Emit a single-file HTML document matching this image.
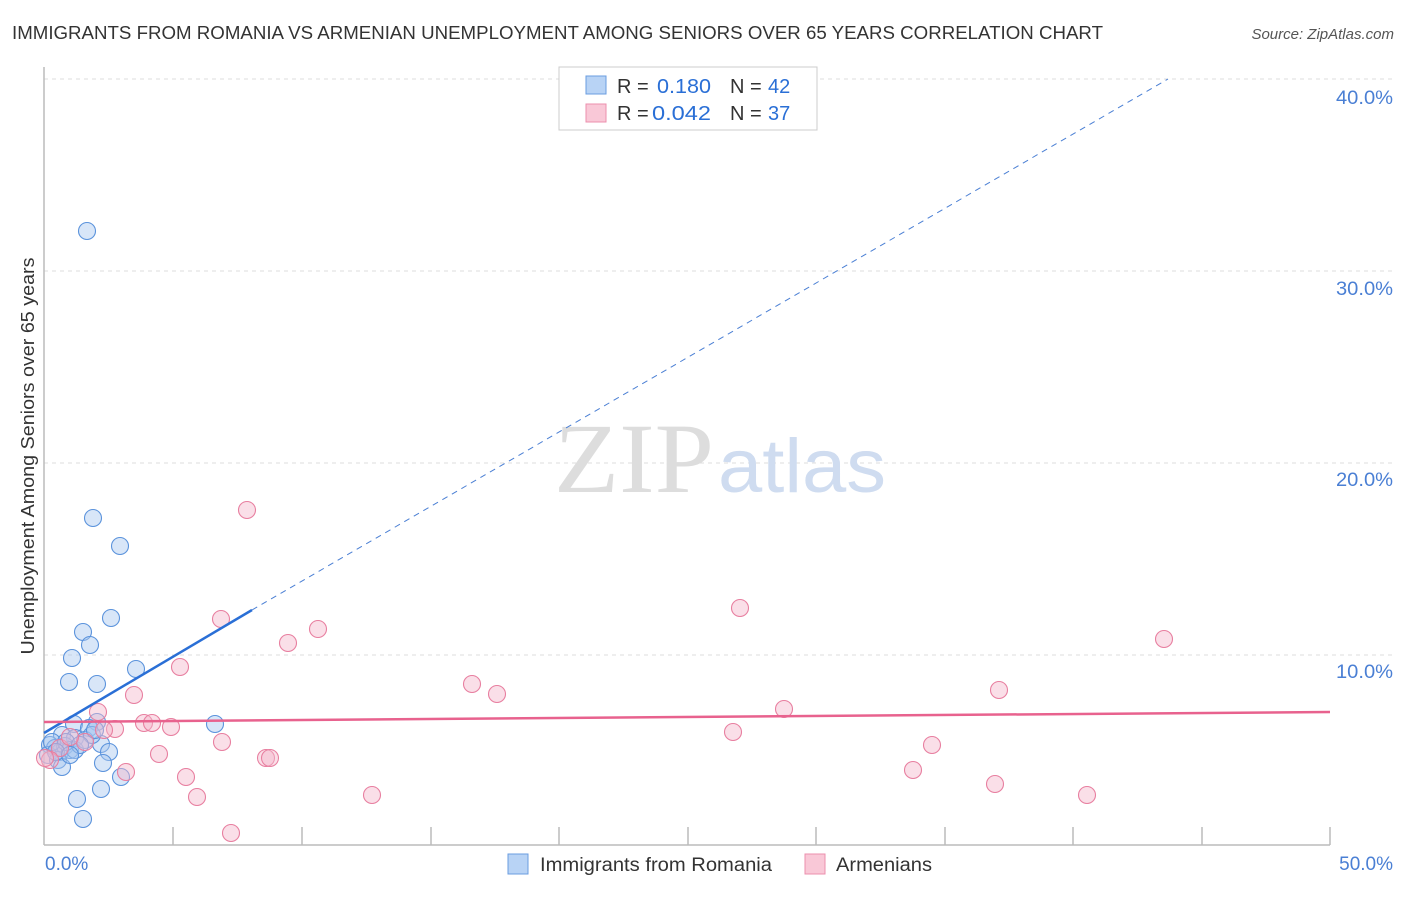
<!DOCTYPE html>
<html><head><style>
body{margin:0;background:#fff;font-family:"Liberation Sans",sans-serif;}
</style></head><body>
<svg width="1406" height="892" xmlns="http://www.w3.org/2000/svg" font-family="Liberation Sans, sans-serif">
<rect width="1406" height="892" fill="#fff"/>
<text x="12" y="39" font-size="18" fill="#333" textLength="1091" lengthAdjust="spacingAndGlyphs">IMMIGRANTS FROM ROMANIA VS ARMENIAN UNEMPLOYMENT AMONG SENIORS OVER 65 YEARS CORRELATION CHART</text>
<text x="1394" y="39" font-size="15" fill="#555" font-style="italic" text-anchor="end">Source: ZipAtlas.com</text>
<g stroke="#ddd" stroke-dasharray="4,4">
<line x1="44" y1="79" x2="1394" y2="79"/><line x1="44" y1="271" x2="1394" y2="271"/>
<line x1="44" y1="463" x2="1394" y2="463"/><line x1="44" y1="655" x2="1394" y2="655"/>
</g>
<line x1="44" y1="67" x2="44" y2="845" stroke="#bbb" stroke-width="1.5"/>
<line x1="44" y1="845" x2="1330" y2="845" stroke="#bbb" stroke-width="1.5"/>
<g stroke="#bbb" stroke-width="1.5">
<line x1="173" y1="827" x2="173" y2="845"/><line x1="302" y1="827" x2="302" y2="845"/><line x1="431" y1="827" x2="431" y2="845"/><line x1="559" y1="827" x2="559" y2="845"/><line x1="688" y1="827" x2="688" y2="845"/><line x1="816" y1="827" x2="816" y2="845"/><line x1="945" y1="827" x2="945" y2="845"/><line x1="1073" y1="827" x2="1073" y2="845"/><line x1="1202" y1="827" x2="1202" y2="845"/><line x1="1330" y1="827" x2="1330" y2="845"/>
</g>
<g font-size="19" fill="#4a7fd4" text-anchor="end">
<text x="1393" y="104" textLength="57" lengthAdjust="spacingAndGlyphs">40.0%</text><text x="1393" y="295" textLength="57" lengthAdjust="spacingAndGlyphs">30.0%</text><text x="1393" y="486" textLength="57" lengthAdjust="spacingAndGlyphs">20.0%</text><text x="1393" y="678" textLength="57" lengthAdjust="spacingAndGlyphs">10.0%</text>
</g>
<text x="45" y="870" font-size="19" fill="#4a7fd4">0.0%</text>
<text x="1393" y="870" font-size="19" fill="#4a7fd4" text-anchor="end">50.0%</text>
<text transform="translate(34,456) rotate(-90)" font-size="18" fill="#333" text-anchor="middle" textLength="397" lengthAdjust="spacingAndGlyphs">Unemployment Among Seniors over 65 years</text>
<text x="554" y="492" font-size="100" fill="#ddd" font-family="Liberation Serif, serif" textLength="160" lengthAdjust="spacingAndGlyphs">ZIP</text>
<text x="718" y="492" font-size="76" fill="#cfdcf0" textLength="168" lengthAdjust="spacingAndGlyphs">atlas</text>
<g fill="#a9c8f0" fill-opacity="0.45" stroke="#5b93dc" stroke-width="1.1">
<circle cx="87" cy="231" r="8.5"/><circle cx="93" cy="518" r="8.5"/><circle cx="120" cy="546" r="8.5"/><circle cx="111" cy="618" r="8.5"/><circle cx="83" cy="632" r="8.5"/><circle cx="90" cy="645" r="8.5"/><circle cx="72" cy="658" r="8.5"/><circle cx="136" cy="669" r="8.5"/><circle cx="69" cy="682" r="8.5"/><circle cx="97" cy="684" r="8.5"/><circle cx="74" cy="724" r="8.5"/><circle cx="215" cy="724" r="8.5"/><circle cx="97" cy="722" r="8.5"/><circle cx="89" cy="728" r="8.5"/><circle cx="62" cy="735" r="8.5"/><circle cx="101" cy="744" r="8.5"/><circle cx="75" cy="738" r="8.5"/><circle cx="109" cy="752" r="8.5"/><circle cx="50" cy="745" r="8.5"/><circle cx="55" cy="748" r="8.5"/><circle cx="60" cy="752" r="8.5"/><circle cx="65" cy="746" r="8.5"/><circle cx="70" cy="750" r="8.5"/><circle cx="48" cy="755" r="8.5"/><circle cx="58" cy="760" r="8.5"/><circle cx="75" cy="750" r="8.5"/><circle cx="103" cy="763" r="8.5"/><circle cx="62" cy="767" r="8.5"/><circle cx="52" cy="742" r="8.5"/><circle cx="121" cy="777" r="8.5"/><circle cx="101" cy="789" r="8.5"/><circle cx="77" cy="799" r="8.5"/><circle cx="83" cy="819" r="8.5"/><circle cx="85" cy="740" r="8.5"/><circle cx="92" cy="735" r="8.5"/><circle cx="66" cy="742" r="8.5"/><circle cx="80" cy="745" r="8.5"/><circle cx="56" cy="752" r="8.5"/><circle cx="95" cy="730" r="8.5"/><circle cx="70" cy="755" r="8.5"/>
</g>
<g fill="#f5b8cb" fill-opacity="0.45" stroke="#e87fa0" stroke-width="1.1">
<circle cx="247" cy="510" r="8.5"/><circle cx="221" cy="619" r="8.5"/><circle cx="318" cy="629" r="8.5"/><circle cx="288" cy="643" r="8.5"/><circle cx="180" cy="667" r="8.5"/><circle cx="134" cy="695" r="8.5"/><circle cx="740" cy="608" r="8.5"/><circle cx="1164" cy="639" r="8.5"/><circle cx="472" cy="684" r="8.5"/><circle cx="497" cy="694" r="8.5"/><circle cx="999" cy="690" r="8.5"/><circle cx="784" cy="709" r="8.5"/><circle cx="733" cy="732" r="8.5"/><circle cx="932" cy="745" r="8.5"/><circle cx="222" cy="742" r="8.5"/><circle cx="159" cy="754" r="8.5"/><circle cx="266" cy="758" r="8.5"/><circle cx="270" cy="758" r="8.5"/><circle cx="186" cy="777" r="8.5"/><circle cx="913" cy="770" r="8.5"/><circle cx="995" cy="784" r="8.5"/><circle cx="126" cy="772" r="8.5"/><circle cx="372" cy="795" r="8.5"/><circle cx="1087" cy="795" r="8.5"/><circle cx="197" cy="797" r="8.5"/><circle cx="231" cy="833" r="8.5"/><circle cx="144" cy="723" r="8.5"/><circle cx="152" cy="723" r="8.5"/><circle cx="171" cy="727" r="8.5"/><circle cx="115" cy="729" r="8.5"/><circle cx="98" cy="712" r="8.5"/><circle cx="104" cy="730" r="8.5"/><circle cx="85" cy="742" r="8.5"/><circle cx="60" cy="748" r="8.5"/><circle cx="50" cy="760" r="8.5"/><circle cx="70" cy="737" r="8.5"/><circle cx="45" cy="758" r="8.5"/>
</g>
<line x1="252" y1="610" x2="1168" y2="79" stroke="#4a7fd4" stroke-width="1" stroke-dasharray="6,5"/>
<line x1="44" y1="733" x2="252" y2="610" stroke="#2a6fd6" stroke-width="2.5"/>
<line x1="44" y1="722" x2="1330" y2="712" stroke="#e8628e" stroke-width="2.5"/>
<rect x="559" y="67" width="258" height="63" fill="#fff" stroke="#ccc"/>
<rect x="586" y="76" width="20" height="18" fill="#b8d3f5" stroke="#6a9de0"/>
<rect x="586" y="104" width="20" height="18" fill="#f9c8d7" stroke="#ec8fae"/>
<g font-size="20">
<text x="617" y="93" fill="#333">R =</text><text x="657" y="93" fill="#2a6fd6" textLength="54" lengthAdjust="spacingAndGlyphs">0.180</text>
<text x="730" y="93" fill="#333">N =</text><text x="768" y="93" fill="#2a6fd6">42</text>
<text x="617" y="120" fill="#333">R =</text><text x="652" y="120" fill="#2a6fd6" textLength="59" lengthAdjust="spacingAndGlyphs">0.042</text>
<text x="730" y="120" fill="#333">N =</text><text x="768" y="120" fill="#2a6fd6">37</text>
</g>
<rect x="508" y="854" width="20" height="20" fill="#b8d3f5" stroke="#6a9de0"/>
<text x="540" y="871" font-size="19" fill="#333" textLength="232" lengthAdjust="spacingAndGlyphs">Immigrants from Romania</text>
<rect x="805" y="854" width="20" height="20" fill="#f9c8d7" stroke="#ec8fae"/>
<text x="836" y="871" font-size="19" fill="#333" textLength="96" lengthAdjust="spacingAndGlyphs">Armenians</text>
</svg>
</body></html>
